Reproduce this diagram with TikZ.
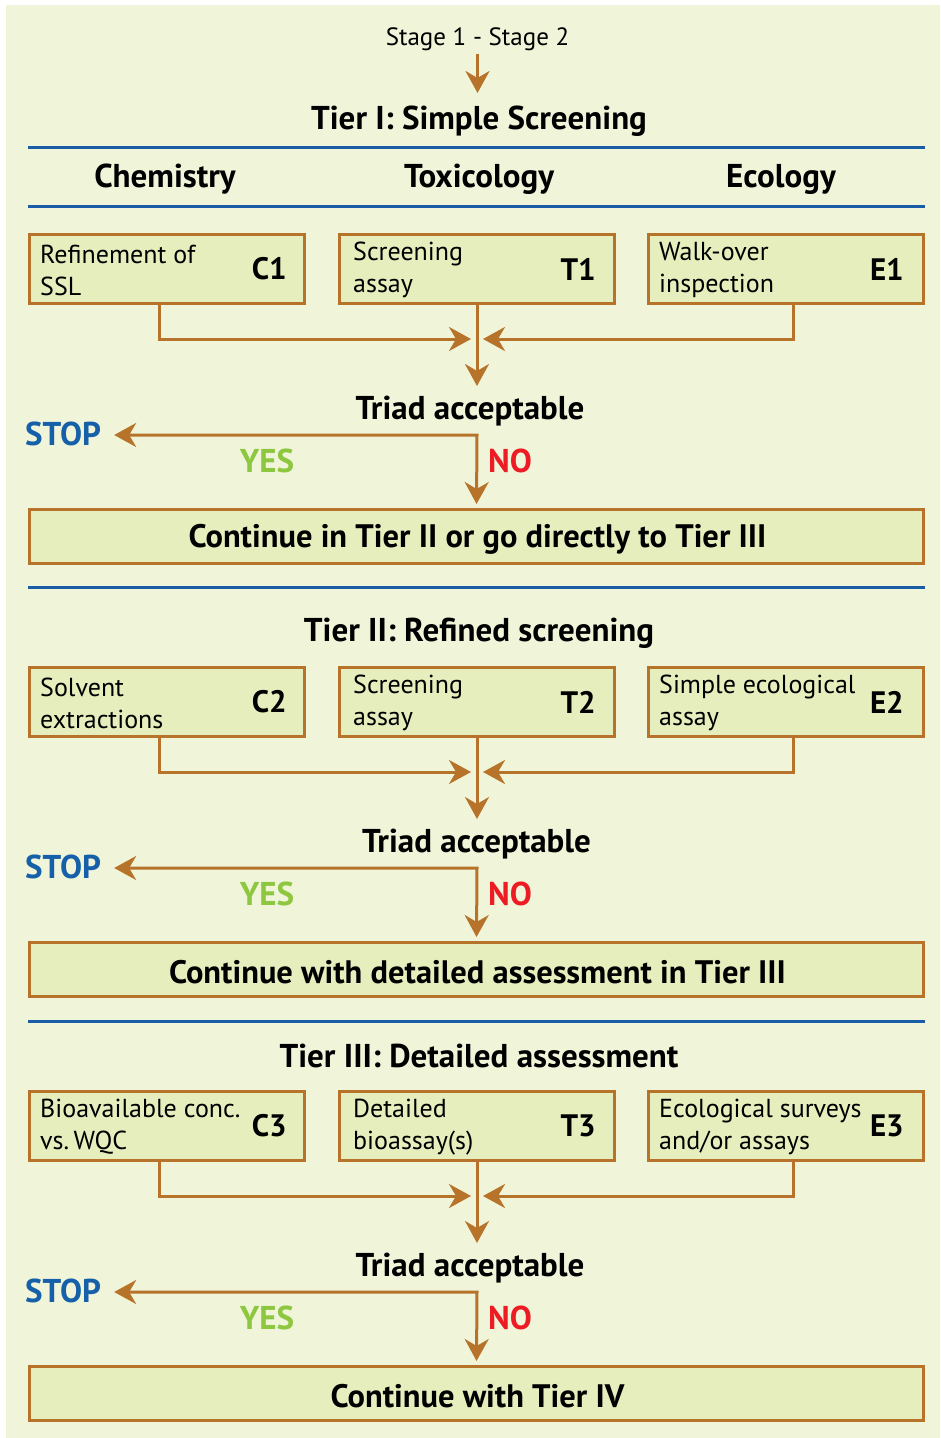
\documentclass[tikz,border=0pt]{standalone}
\usepackage{fontspec}
\setmainfont{PT Sans}
\usetikzlibrary{arrows.meta,calc}

\definecolor{panel}{HTML}{F0F5DA}
\definecolor{boxfill}{HTML}{E6EEBD}
\definecolor{flowbrown}{HTML}{B8732A}
\definecolor{ruleblue}{HTML}{1B5CA6}
\definecolor{stopblue}{HTML}{1560A8}
\definecolor{yesgreen}{HTML}{8DC63F}
\definecolor{nored}{HTML}{ED1C24}

\tikzset{
  x=1pt, y=-1pt,
  flow/.style={draw=flowbrown, line width=3pt},
  tip/.tip={Stealth[length=22pt,width=24pt,inset=7pt]},
  arr/.style={flow, -tip},
  stagebox/.style={draw=flowbrown, line width=3pt, fill=boxfill, anchor=north west,
    minimum width=275pt, minimum height=69pt, inner sep=0pt},
  widebox/.style={draw=flowbrown, line width=3pt, fill=boxfill, anchor=north west,
    minimum width=894pt, minimum height=54pt, inner sep=0pt},
  widetext/.style={inner sep=0pt, font=\fontsize{32.5}{36}\selectfont\bfseries},
  boxtext/.style={anchor=west, align=left, inner sep=0pt,
    font=\fontsize{26}{32}\selectfont},
  boxlabel/.style={anchor=east, inner sep=0pt, font=\fontsize{31}{34}\selectfont\bfseries},
  heading/.style={inner sep=0pt, font=\fontsize{33}{36}\selectfont\bfseries},
  answer/.style={inner sep=0pt, font=\fontsize{33}{36}\selectfont\bfseries},
  rulerline/.style={draw=ruleblue, line width=3pt},
}

% One tier: three assessment boxes, their merge, the decision and the follow-up box.
% #1 tier number, #2 top of the boxes, #3/#4/#5 box texts, #6 follow-up text, #7 x of the decision text
\newcommand{\tierblock}[7]{%
  \node[stagebox] (C#1) at (28,#2) {};
  \node[stagebox] (T#1) at (338,#2) {};
  \node[stagebox] (E#1) at (647,#2) {};
  \node[boxtext] (C#1txt) at ($(C#1.west)+(12,1)$) {#3};
  \node[boxtext] (T#1txt) at ($(T#1.west)+(15,1)$) {#4};
  \node[boxtext] (E#1txt) at ($(E#1.west)+(12,1)$) {#5};
  \node[boxlabel] (C#1lab) at ($(C#1.east)+(-19,0)$) {C#1};
  \node[boxlabel] (T#1lab) at ($(T#1.east)+(-20,0)$) {T#1};
  \node[boxlabel] (E#1lab) at ($(E#1.east)+(-21,0)$) {E#1};
  \coordinate (m#1) at (477,{#2+106});
  \coordinate (d#1) at (477,{#2+153});
  \coordinate (k#1) at (477,{#2+202});
  \draw[arr] ($(C#1.south west)+(131,0)$) |- ($(m#1)+(-6,0)$);
  \draw[arr] ($(E#1.south west)+(146,0)$) |- ($(m#1)+(6,0)$);
  \draw[arr] (T#1.south) -- (d#1);
  \node[heading] (triad#1) at (#7,{#2+178}) {Triad acceptable};
  \node[answer, text=stopblue] (stop#1) at (63,{#2+201}) {STOP};
  \node[answer, text=yesgreen] (yes#1) at (267,{#2+228}) {YES};
  \node[answer, text=nored] (no#1) at (510,{#2+228}) {NO};
  \node[widebox] (cont#1) at (28,{#2+275}) {};
  \node[widetext] (cont#1txt) at ($(cont#1.center)+(1,3)$) {#6};
  \draw[flow, tip-tip, shorten <=13pt, shorten >=4pt]
    (stop#1.east |- k#1) -- (k#1) -- (cont#1.north);
}

\begin{document}
\begin{tikzpicture}
  \useasboundingbox (0,0) rectangle (940,1438);
  \fill[white] (0,0) rectangle (940,1438);
  \fill[panel] (6,5) rectangle (940,1438);

  % entry
  \node[inner sep=0pt, font=\fontsize{25}{30}\selectfont] (stage) at (477.5,39) {Stage 1 - Stage 2};
  \coordinate (s0) at (477.5,93);
  \draw[arr] ($(stage.south)+(0,3)$) -- (s0);
  \node[heading] (tier1) at (479,121) {Tier I: Simple Screening};

  % discipline headings
  \draw[rulerline] (28,147) -- (925,147);
  \node[heading] (chem) at (165,179) {Chemistry};
  \node[heading] (tox) at (479,179) {Toxicology};
  \node[heading] (eco) at (781,179) {Ecology};
  \draw[rulerline] (28,206) -- (925,206);

  \tierblock{1}{233}{Refinement of\\SSL}{Screening\\assay}{Walk-over\\inspection}
    {Continue in Tier II or go directly to Tier III}{470}

  \draw[rulerline] (28,587) -- (925,587);
  \node[heading] (tier2) at (479,633) {Tier II: Refined screening};

  \tierblock{2}{666}{Solvent\\extractions}{Screening\\assay}{Simple ecological\\assay}
    {Continue with detailed assessment in Tier III}{476.5}

  \draw[rulerline] (28,1021) -- (925,1021);
  \node[heading] (tier3) at (479,1056) {Tier III: Detailed assessment};

  \tierblock{3}{1090}{Bioavailable conc.\\vs.\,WQC}{Detailed\\bioassay(s)}{Ecological surveys\\and/or assays}
    {Continue with Tier IV}{470}
\end{tikzpicture}
\end{document}
